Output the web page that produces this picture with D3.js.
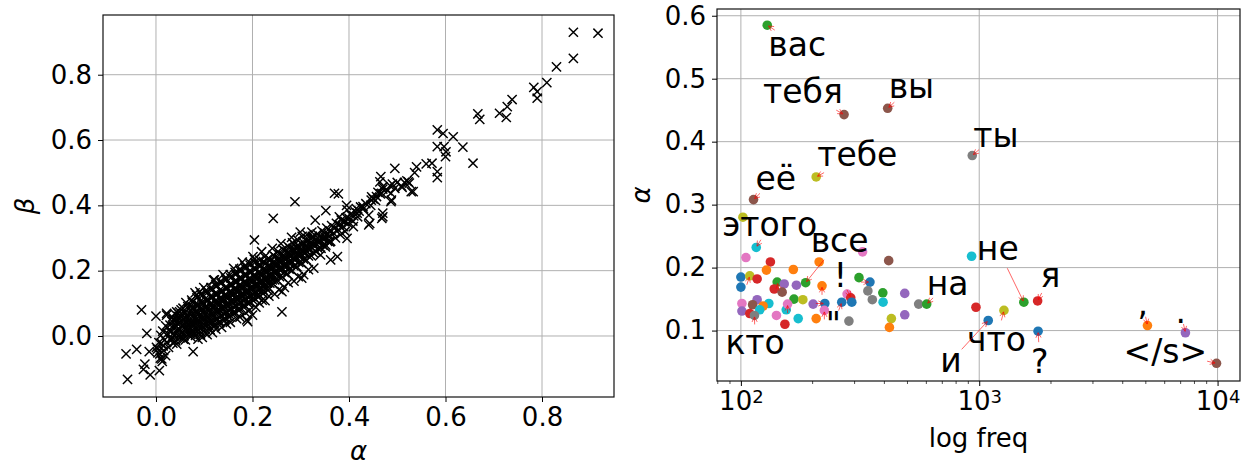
<!DOCTYPE html>
<html>
<head>
<meta charset="utf-8">
<script src="https://cdn.jsdelivr.net/npm/d3@7"></script>
<style>
  html, body { margin: 0; padding: 0; background: #fff; }
  svg { display: block; font-family: 'DejaVu Sans', sans-serif; }
</style>
</head>
<body>
<svg id="fig" width="1244" height="466"></svg>
<script>
// ---------- left panel: alpha vs beta per token ----------
const alphaLimits = [-0.1098, 0.9492];
const betaLimits = [-0.1868, 0.9828];
const alphaTicks = [0.0, 0.2, 0.4, 0.6, 0.8];
const betaTicks = [0.0, 0.2, 0.4, 0.6, 0.8];

// [alpha, beta]
const alphaBeta = [
  // lower-left tail
  [-0.062,-0.055],[-0.040,-0.041],[-0.030,0.080],[0.000,0.061],[-0.019,0.008],[-0.059,-0.133],
  [-0.023,-0.086],[-0.026,-0.102],[-0.012,-0.119],[0.007,-0.106],[-0.014,-0.048],[0.001,-0.035],
  [0.004,-0.052],[0.009,-0.068],[0.013,-0.078],[0.022,0.069],[0.077,-0.048],[0.011,-0.022],
  [0.003,-0.04],[0.008,-0.055],[0.012,-0.07],[0.015,-0.03],[0.006,-0.02],[0.018,-0.012],
  [0.010,0.002],[0.016,-0.045],[0.020,-0.06],[0.022,-0.02],[0.014,0.015],[0.020,0.031],
  [0.024,0.008],[0.026,-0.035],
  // dense band
  [0.028,0.02],[0.031,-0.008],[0.033,0.045],[0.030,0.012],[0.035,-0.022],[0.029,0.033],[0.034,0.058],
  [0.038,0.0],[0.040,0.025],[0.043,0.05],[0.041,-0.015],[0.045,0.038],[0.039,0.068],[0.044,0.012],[0.046,0.06],
  [0.048,0.021],[0.050,-0.006],[0.052,0.046],[0.055,0.03],[0.049,0.074],[0.054,0.01],[0.051,0.061],[0.056,0.085],
  [0.058,0.0],[0.060,0.028],[0.062,0.053],[0.064,0.015],[0.059,0.071],[0.063,0.041],[0.066,0.09],[0.061,-0.012],[0.065,0.066],
  [0.068,0.022],[0.070,0.048],[0.072,0.005],[0.074,0.072],[0.069,0.036],[0.073,0.093],[0.076,0.058],[0.071,0.012],[0.075,0.104],
  [0.078,0.031],[0.080,0.055],[0.082,0.008],[0.084,0.078],[0.079,0.043],[0.083,0.1],[0.086,0.066],[0.081,0.019],[0.085,0.117],[0.077,0.088],
  [0.088,0.036],[0.090,0.062],[0.092,0.013],[0.094,0.086],[0.089,0.05],[0.093,0.108],[0.096,0.073],[0.091,0.025],[0.095,0.123],[0.087,0.095],
  [0.098,0.045],[0.100,0.07],[0.102,0.021],[0.104,0.092],[0.099,0.058],[0.103,0.115],[0.106,0.081],[0.101,0.033],[0.105,0.131],[0.097,0.102],
  [0.108,0.052],[0.110,0.078],[0.112,0.028],[0.114,0.101],[0.109,0.066],[0.113,0.122],[0.116,0.088],[0.111,0.04],[0.115,0.14],[0.107,0.11],
  [0.118,0.061],[0.120,0.087],[0.122,0.036],[0.124,0.11],[0.119,0.075],[0.123,0.131],[0.126,0.098],[0.121,0.048],[0.125,0.151],[0.117,0.12],
  [0.128,0.07],[0.130,0.095],[0.132,0.045],[0.134,0.118],[0.129,0.082],[0.133,0.141],[0.136,0.108],[0.131,0.058],[0.135,0.161],[0.127,0.128],
  [0.138,0.08],[0.140,0.106],[0.142,0.055],[0.144,0.128],[0.139,0.092],[0.143,0.148],[0.146,0.118],[0.141,0.068],[0.145,0.171],[0.137,0.138],
  [0.148,0.09],[0.150,0.115],[0.152,0.066],[0.154,0.138],[0.149,0.101],[0.153,0.158],[0.156,0.128],[0.151,0.078],[0.155,0.178],[0.147,0.148],
  [0.158,0.1],[0.160,0.125],[0.162,0.075],[0.164,0.148],[0.159,0.112],[0.163,0.168],[0.166,0.138],[0.161,0.088],[0.165,0.188],[0.157,0.158],
  [0.168,0.11],[0.170,0.135],[0.172,0.085],[0.174,0.158],[0.169,0.122],[0.173,0.178],[0.176,0.148],[0.171,0.098],[0.175,0.198],[0.167,0.168],
  [0.178,0.12],[0.180,0.145],[0.182,0.095],[0.184,0.168],[0.179,0.132],[0.183,0.188],[0.186,0.158],[0.181,0.108],[0.185,0.207],[0.177,0.178],
  [0.188,0.13],[0.190,0.155],[0.192,0.105],[0.194,0.178],[0.189,0.142],[0.193,0.198],[0.196,0.168],[0.191,0.118],[0.195,0.217],[0.187,0.188],
  [0.198,0.14],[0.200,0.165],[0.202,0.118],[0.204,0.188],[0.199,0.152],[0.203,0.208],[0.206,0.178],[0.201,0.128],[0.205,0.225],[0.197,0.198],
  [0.208,0.15],[0.210,0.175],[0.212,0.128],[0.214,0.198],[0.209,0.162],[0.213,0.218],[0.216,0.188],[0.211,0.14],[0.215,0.232],
  [0.218,0.16],[0.220,0.185],[0.222,0.14],[0.224,0.208],[0.219,0.172],[0.223,0.228],[0.226,0.198],[0.221,0.152],[0.225,0.242],
  [0.228,0.17],[0.230,0.195],[0.232,0.15],[0.234,0.218],[0.229,0.182],[0.233,0.238],[0.236,0.208],[0.231,0.162],
  [0.238,0.18],[0.240,0.205],[0.242,0.16],[0.244,0.228],[0.239,0.192],[0.243,0.248],[0.246,0.218],[0.241,0.172],
  [0.248,0.19],[0.250,0.215],[0.252,0.17],[0.254,0.238],[0.249,0.202],[0.253,0.258],[0.256,0.228],
  [0.258,0.2],[0.260,0.225],[0.262,0.18],[0.264,0.248],[0.259,0.212],[0.263,0.265],[0.266,0.238],
  [0.268,0.21],[0.270,0.235],[0.272,0.19],[0.274,0.258],[0.269,0.222],[0.273,0.275],[0.276,0.248],
  [0.278,0.22],[0.280,0.245],[0.282,0.2],[0.284,0.268],[0.279,0.232],[0.283,0.285],[0.286,0.258],
  [0.288,0.232],[0.290,0.255],[0.292,0.212],[0.294,0.278],[0.289,0.245],[0.293,0.295],
  [0.298,0.242],[0.300,0.265],[0.302,0.222],[0.304,0.288],[0.299,0.255],[0.303,0.305],
  [0.308,0.252],[0.310,0.275],[0.312,0.232],[0.314,0.298],[0.309,0.265],[0.313,0.31],
  [0.318,0.262],[0.320,0.285],[0.322,0.245],[0.324,0.305],[0.319,0.275],[0.323,0.318],
  [0.328,0.275],[0.330,0.295],[0.332,0.258],[0.334,0.312],[0.329,0.285],
  [0.338,0.285],[0.340,0.305],[0.342,0.268],[0.344,0.322],[0.339,0.295],
  [0.348,0.295],[0.350,0.315],[0.352,0.278],[0.354,0.33],[0.349,0.305],
  [0.358,0.305],[0.360,0.322],[0.362,0.29],[0.364,0.338],
  [0.368,0.315],[0.370,0.33],[0.372,0.3],[0.374,0.345],
  [0.378,0.325],[0.380,0.34],[0.382,0.31],[0.384,0.355],
  [0.388,0.335],[0.390,0.35],[0.392,0.32],[0.394,0.362],
  [0.398,0.345],[0.400,0.36],[0.403,0.372],
  [0.408,0.352],[0.410,0.368],[0.413,0.38],
  [0.418,0.365],[0.421,0.382],[0.424,0.395],
  [0.430,0.39],[0.435,0.405],[0.445,0.40],[0.450,0.42],[0.455,0.415],[0.460,0.44],[0.465,0.435],
  [0.470,0.45],[0.480,0.445],[0.485,0.46],[0.490,0.465],[0.500,0.47],[0.510,0.455],[0.515,0.47],
  [0.520,0.475],[0.525,0.468],
  // second pass through the band (filling gaps)
  [0.036,0.008],[0.037,0.028],[0.032,-0.012],[0.036,0.05],
  [0.046,0.002],[0.047,0.022],[0.042,0.042],[0.046,0.07],[0.043,-0.025],
  [0.056,0.012],[0.057,0.038],[0.053,0.058],[0.057,-0.01],[0.052,0.08],
  [0.066,0.005],[0.067,0.032],[0.063,0.06],[0.067,0.082],[0.062,0.022],
  [0.076,0.015],[0.077,0.04],[0.073,0.065],[0.077,0.085],[0.072,-0.002],[0.074,0.11],
  [0.086,0.022],[0.087,0.048],[0.083,0.072],[0.087,0.092],[0.082,0.002],[0.084,0.125],
  [0.096,0.03],[0.097,0.055],[0.093,0.08],[0.097,0.098],[0.092,0.005],[0.094,0.13],
  [0.106,0.038],[0.107,0.062],[0.103,0.087],[0.107,0.108],[0.102,0.012],[0.104,0.14],
  [0.116,0.045],[0.117,0.07],[0.113,0.095],[0.117,0.118],[0.112,0.02],[0.114,0.148],
  [0.126,0.052],[0.127,0.078],[0.123,0.103],[0.127,0.128],[0.122,0.03],[0.124,0.158],
  [0.136,0.062],[0.137,0.088],[0.133,0.112],[0.137,0.135],[0.132,0.04],[0.134,0.168],
  [0.146,0.072],[0.147,0.098],[0.143,0.122],[0.147,0.145],[0.142,0.048],[0.144,0.178],
  [0.156,0.082],[0.157,0.108],[0.153,0.132],[0.157,0.155],[0.152,0.058],[0.154,0.188],
  [0.166,0.092],[0.167,0.118],[0.163,0.142],[0.167,0.165],[0.162,0.068],[0.164,0.195],
  [0.176,0.102],[0.177,0.128],[0.173,0.152],[0.177,0.175],[0.172,0.078],[0.174,0.205],
  [0.186,0.112],[0.187,0.138],[0.183,0.162],[0.187,0.185],[0.182,0.088],[0.184,0.215],
  [0.196,0.122],[0.197,0.148],[0.193,0.172],[0.197,0.195],[0.192,0.098],[0.194,0.225],
  [0.206,0.132],[0.207,0.158],[0.203,0.182],[0.207,0.205],[0.202,0.108],[0.204,0.235],
  [0.216,0.142],[0.217,0.168],[0.213,0.192],[0.217,0.215],[0.212,0.118],
  [0.226,0.152],[0.227,0.178],[0.223,0.2],[0.227,0.222],[0.222,0.13],
  [0.236,0.162],[0.237,0.188],[0.233,0.21],[0.237,0.232],[0.232,0.14],
  [0.246,0.172],[0.247,0.198],[0.243,0.22],[0.247,0.242],
  [0.256,0.182],[0.257,0.208],[0.253,0.23],[0.257,0.25],
  [0.266,0.195],[0.267,0.218],[0.263,0.24],[0.267,0.26],
  [0.276,0.205],[0.277,0.228],[0.273,0.25],[0.277,0.27],
  [0.286,0.215],[0.287,0.238],[0.283,0.26],[0.287,0.28],
  [0.296,0.225],[0.297,0.25],[0.293,0.27],
  [0.306,0.235],[0.307,0.26],[0.303,0.28],
  [0.316,0.245],[0.317,0.27],[0.313,0.29],
  [0.326,0.255],[0.327,0.28],[0.323,0.3],
  [0.336,0.268],[0.337,0.29],[0.346,0.278],[0.347,0.3],[0.356,0.29],[0.357,0.312],
  // lower and upper fringe of the band
  [0.087,-0.01],[0.096,-0.004],[0.106,0.004],[0.117,0.01],[0.124,0.021],[0.136,0.026],[0.146,0.037],
  [0.154,0.042],[0.167,0.053],[0.174,0.058],[0.186,0.071],[0.194,0.079],[0.207,0.088],[0.214,0.101],
  [0.226,0.108],[0.234,0.122],[0.246,0.128],[0.255,0.142],[0.266,0.149],[0.274,0.163],[0.286,0.168],
  [0.295,0.182],[0.306,0.188],[0.316,0.203],[0.327,0.208],
  [0.062,0.102],[0.081,0.132],[0.099,0.148],[0.121,0.172],[0.139,0.188],[0.161,0.207],[0.179,0.226],
  [0.201,0.243],[0.219,0.258],[0.241,0.268],[0.259,0.283],[0.281,0.302],[0.299,0.318],
  [0.091,0.136],[0.119,0.171],[0.043,0.074],[0.022,0.064],
  // scattered points off the band
  [0.188,0.049],[0.190,0.044],[0.200,0.064],[0.220,0.110],[0.261,0.136],[0.261,0.074],[0.302,0.177],
  [0.204,0.294],[0.243,0.360],[0.288,0.411],[0.352,0.384],[0.370,0.437],[0.378,0.435],
  [0.376,0.243],[0.362,0.233],[0.351,0.273],[0.341,0.248],[0.360,0.288],[0.330,0.355],
  [0.395,0.400],[0.415,0.390],[0.447,0.426],[0.488,0.416],[0.470,0.365],[0.443,0.345],[0.533,0.442],
  [0.396,0.386],[0.396,0.299],[0.409,0.335],[0.392,0.350],[0.380,0.365],[0.417,0.376],[0.429,0.396],
  [0.441,0.370],[0.441,0.340],[0.470,0.376],[0.468,0.360],[0.446,0.416],[0.457,0.427],[0.468,0.437],
  [0.470,0.457],[0.464,0.472],[0.466,0.488],[0.487,0.411],[0.487,0.437],[0.495,0.452],[0.495,0.513],
  [0.509,0.459],[0.529,0.442],[0.523,0.472],[0.536,0.500],[0.540,0.518],[0.560,0.527],[0.572,0.529],
  [0.583,0.503],[0.583,0.485],[0.600,0.549],[0.601,0.564],[0.597,0.580],[0.583,0.580],[0.595,0.620],
  [0.583,0.631],[0.616,0.610],[0.636,0.578],[0.657,0.529],[0.667,0.680],[0.671,0.663],[0.712,0.682],
  [0.726,0.669],[0.728,0.702],[0.738,0.724],[0.790,0.728],[0.790,0.748],[0.783,0.761],[0.810,0.776],
  [0.830,0.824],[0.865,0.850],[0.865,0.930],[0.916,0.927]
];

// ---------- right panel: alpha vs word frequency ----------
const freqLimits = [79.4, 12420];
const alphaLimitsR = [0.0199, 0.6107];
const freqTicks = [100, 1000, 10000];
const alphaTicksR = [0.1, 0.2, 0.3, 0.4, 0.5, 0.6];

const freqs = [
  102, 116, 105, 133, 128, 166, 213, 100, 109, 100, 117, 142, 152, 138, 149, 171, 187, 219,
  167, 182, 201, 225, 101, 117, 112, 131, 124, 120, 101, 109, 114, 141, 155, 157, 153, 174,
  207, 224, 265, 279, 289, 292, 284, 324, 313, 348, 341, 356, 394, 395, 417, 428, 420, 487,
  487, 557, 602, 929, 969, 1091, 1270, 1539, 129, 271, 413, 935, 207, 113, 1758, 1766, 5080,
  7330, 9900
];
const alphas = [
  0.280, 0.232, 0.216, 0.209, 0.196, 0.197, 0.209, 0.185, 0.187, 0.169, 0.182, 0.177, 0.174,
  0.166, 0.161, 0.172, 0.176, 0.171, 0.150, 0.149, 0.142, 0.143, 0.143, 0.149, 0.141, 0.143,
  0.139, 0.133, 0.131, 0.127, 0.124, 0.124, 0.133, 0.142, 0.110, 0.119, 0.119, 0.132, 0.145,
  0.158, 0.152, 0.145, 0.115, 0.225, 0.184, 0.177, 0.163, 0.149, 0.160, 0.145, 0.211, 0.119,
  0.105, 0.159, 0.125, 0.142, 0.142, 0.218, 0.137, 0.116, 0.132, 0.145, 0.585, 0.443, 0.453,
  0.378, 0.344, 0.308, 0.147, 0.099, 0.108, 0.0965, 0.048
];
// colour-cycle slot each word was plotted with
const cycleSlot = [
  8, 9, 6, 3, 1, 1, 1, 0, 8, 0, 3, 2, 4, 3, 5, 4, 2, 1, 2, 8, 4, 0, 6, 4, 5, 9, 1, 9, 4, 3,
  7, 6, 9, 6, 3, 9, 1, 6, 0, 6, 3, 0, 7, 6, 2, 0, 7, 7, 2, 9, 5, 8, 1, 4, 4, 7, 2, 9, 3, 0,
  8, 2, 2, 5, 5, 7, 8, 5, 3, 0, 1, 4, 5
];
const words = [
  '', 'этого', '', '', '', '', '', '', '', '', '', '', '', '', '', '', 'все', '',
  '', '', '', '', '', '', '', '', '', '', '', '', 'кто', '', '', '', '', '',
  '', '', '"', '', '!', '', '', '', '', '', '', '', '', '', '', '', '', '',
  '', '', 'на', '', '', 'и', 'что', 'не', 'вас', 'тебя', 'вы', 'ты', 'тебе', 'её', 'я', '?', ',',
  '.', '</s>'
];
// where each word label sits relative to its point (px: left edge, baseline)
const labelShift = {
  'вас': [1, 31], 'тебя': [-81, -12], 'вы': [1, -10], 'ты': [1, -9], 'тебе': [1, -11],
  'её': [2, -10], 'этого': [-34, -11], 'все': [5, -31], '!': [-17, -11], '"': [-16, 34],
  'на': [0, -9], 'не': [-47, -42], 'я': [3, -14], '?': [-7, 42], ',': [-10, -11],
  '.': [-10, -10], '</s>': [-93, 0], 'что': [-37, 41], 'и': [-48, 52], 'кто': [-29, 39]
};
// short pointers left on dots whose labels are blank: [point index, tail dx, tail dy]
const blankPointers = [[8, -3, 9], [11, 2, 9], [17, 0, 9], [33, 0, 9], [37, 0, 9], [21, -9, 0], [45, -9, 0]];

// ---------- drawing ----------
const svg = d3.select('#fig');
const GRID = '#b0b0b0';
const TICK_FONT = 26;

function styleAxis(g) {
  g.attr('font-family', null).attr('font-size', null);
  g.select('.domain').remove();
  g.selectAll('.tick line').attr('stroke', '#000').attr('stroke-width', 1);
  g.selectAll('.tick text').attr('fill', '#000').style('font-size', TICK_FONT + 'px');
}

function frame(p) {
  svg.append('rect')
    .attr('x', p.left).attr('y', p.top)
    .attr('width', p.right - p.left).attr('height', p.bottom - p.top)
    .attr('fill', 'none').attr('stroke', '#111').attr('stroke-width', 1.2);
}

// left panel
const LP = { left: 103, right: 614, top: 15, bottom: 397 };
const xA = d3.scaleLinear().domain(alphaLimits).range([LP.left, LP.right]);
const yB = d3.scaleLinear().domain(betaLimits).range([LP.bottom, LP.top]);

const gLgrid = svg.append('g');
gLgrid.selectAll('.gx').data(alphaTicks).join('line')
  .attr('x1', d => xA(d)).attr('x2', d => xA(d)).attr('y1', LP.top).attr('y2', LP.bottom)
  .attr('stroke', GRID).attr('stroke-width', 1);
gLgrid.selectAll('.gy').data(betaTicks).join('line')
  .attr('y1', d => yB(d)).attr('y2', d => yB(d)).attr('x1', LP.left).attr('x2', LP.right)
  .attr('stroke', GRID).attr('stroke-width', 1);

const cross = 'M-4.6,-4.6L4.6,4.6M-4.6,4.6L4.6,-4.6';
svg.append('g').selectAll('path').data(alphaBeta).join('path')
  .attr('d', cross)
  .attr('transform', d => `translate(${xA(d[0])},${yB(d[1])})`)
  .attr('stroke', '#000').attr('stroke-width', 1.45).attr('fill', 'none');

frame(LP);

svg.append('g').attr('transform', `translate(0,${LP.bottom})`)
  .call(d3.axisBottom(xA).tickValues(alphaTicks).tickFormat(d3.format('.1f')).tickSize(5).tickPadding(6))
  .call(styleAxis);
svg.append('g').attr('transform', `translate(${LP.left},0)`)
  .call(d3.axisLeft(yB).tickValues(betaTicks).tickFormat(d3.format('.1f')).tickSize(5).tickPadding(6))
  .call(styleAxis);

svg.append('text').attr('x', (LP.left + LP.right) / 2).attr('y', 460)
  .attr('text-anchor', 'middle').style('font-size', '26px').style('font-style', 'italic').text('α');
svg.append('text').attr('transform', `translate(34,${(LP.top + LP.bottom) / 2}) rotate(-90)`)
  .attr('text-anchor', 'middle').style('font-size', '26px').style('font-style', 'italic').text('β');

// right panel
const RP = { left: 717, right: 1240, top: 9, bottom: 381 };
const xF = d3.scaleLog().domain(freqLimits).range([RP.left, RP.right]);
const yR = d3.scaleLinear().domain(alphaLimitsR).range([RP.bottom, RP.top]);

const gRgrid = svg.append('g');
gRgrid.selectAll('.gx').data(freqTicks).join('line')
  .attr('x1', d => xF(d)).attr('x2', d => xF(d)).attr('y1', RP.top).attr('y2', RP.bottom)
  .attr('stroke', GRID).attr('stroke-width', 1);
gRgrid.selectAll('.gy').data(alphaTicksR).join('line')
  .attr('y1', d => yR(d)).attr('y2', d => yR(d)).attr('x1', RP.left).attr('x2', RP.right)
  .attr('stroke', GRID).attr('stroke-width', 1);

const colour = d3.scaleOrdinal().domain(d3.range(10)).range(d3.schemeCategory10);
const pts = freqs.map((f, i) => ({ f, a: alphas[i], slot: cycleSlot[i], word: words[i] }));

svg.append('g').selectAll('circle').data(pts).join('circle')
  .attr('cx', d => xF(d.f)).attr('cy', d => yR(d.a)).attr('r', 4.8)
  .attr('fill', d => colour(d.slot));

// word labels with arrows pointing back to their dots
const gLab = svg.append('g');
const gArr = svg.append('g').attr('stroke', 'red').attr('stroke-opacity', 0.6)
  .attr('stroke-width', 1).attr('fill', 'none');

function pointer(sx, sy, px, py) {
  const dx = px - sx, dy = py - sy;
  const len = Math.hypot(dx, dy);
  const ux = dx / len, uy = dy / len;
  const ex = px - ux * 1.5, ey = py - uy * 1.5;
  gArr.append('line').attr('x1', sx).attr('y1', sy).attr('x2', ex).attr('y2', ey);
  const hl = 5, hw = 2.6;
  gArr.append('path').attr('d',
    `M${ex - ux * hl + uy * hw},${ey - uy * hl - ux * hw}L${ex},${ey}L${ex - ux * hl - uy * hw},${ey - uy * hl + ux * hw}`);
}

pts.filter(d => d.word !== '').forEach(d => {
  const px = xF(d.f), py = yR(d.a);
  const sh = labelShift[d.word];
  const t = gLab.append('text').attr('x', px + sh[0]).attr('y', py + sh[1])
    .style('font-size', '33px').attr('fill', '#000').text(d.word);
  const b = t.node().getBBox();
  const cx = b.x + b.width / 2, cy = b.y + b.height / 2;
  const vx = px - cx, vy = py - cy;
  // leave the text box along the line from its centre to the dot
  let tt = 1;
  if (vx !== 0) tt = Math.min(tt, Math.abs((b.width / 2) / vx));
  if (vy !== 0) tt = Math.min(tt, Math.abs((b.height / 2) / vy));
  let sx = cx + vx * tt, sy = cy + vy * tt;
  const len = Math.hypot(px - sx, py - sy);
  const minLen = 9;
  if (len < minLen) {
    const vl = Math.hypot(vx, vy);
    sx = px - vx / vl * minLen; sy = py - vy / vl * minLen;
  }
  pointer(sx, sy, px, py);
});

blankPointers.forEach(([i, dx, dy]) => {
  const px = xF(freqs[i]), py = yR(alphas[i]);
  pointer(px + dx, py + dy, px, py);
});

frame(RP);

const axF = d3.axisBottom(xF).tickValues(freqTicks).tickFormat(() => '').tickSize(5).tickPadding(6);
const gxF = svg.append('g').attr('transform', `translate(0,${RP.bottom})`).call(axF).call(styleAxis);
gxF.selectAll('.tick text').each(function (d) {
  const t = d3.select(this);
  t.text(null);
  t.append('tspan').text('10');
  t.append('tspan').attr('dy', '-0.42em').style('font-size', '18px').text(String(Math.round(Math.log10(d))));
});
// minor ticks of the log axis
const minor = [];
[10, 100, 1000, 10000].forEach(p => { for (let k = 2; k <= 9; k++) minor.push(p * k); });
svg.append('g').selectAll('line').data(minor.filter(v => v >= freqLimits[0] && v <= freqLimits[1])).join('line')
  .attr('x1', d => xF(d)).attr('x2', d => xF(d)).attr('y1', RP.bottom).attr('y2', RP.bottom + 3)
  .attr('stroke', '#000').attr('stroke-width', 0.7);

svg.append('g').attr('transform', `translate(${RP.left},0)`)
  .call(d3.axisLeft(yR).tickValues(alphaTicksR).tickFormat(d3.format('.1f')).tickSize(5).tickPadding(6))
  .call(styleAxis);

svg.append('text').attr('x', (RP.left + RP.right) / 2).attr('y', 447)
  .attr('text-anchor', 'middle').style('font-size', '26px').text('log freq');
svg.append('text').attr('transform', `translate(650,${(RP.top + RP.bottom) / 2}) rotate(-90)`)
  .attr('text-anchor', 'middle').style('font-size', '26px').style('font-style', 'italic').text('α');
</script>
</body>
</html>
